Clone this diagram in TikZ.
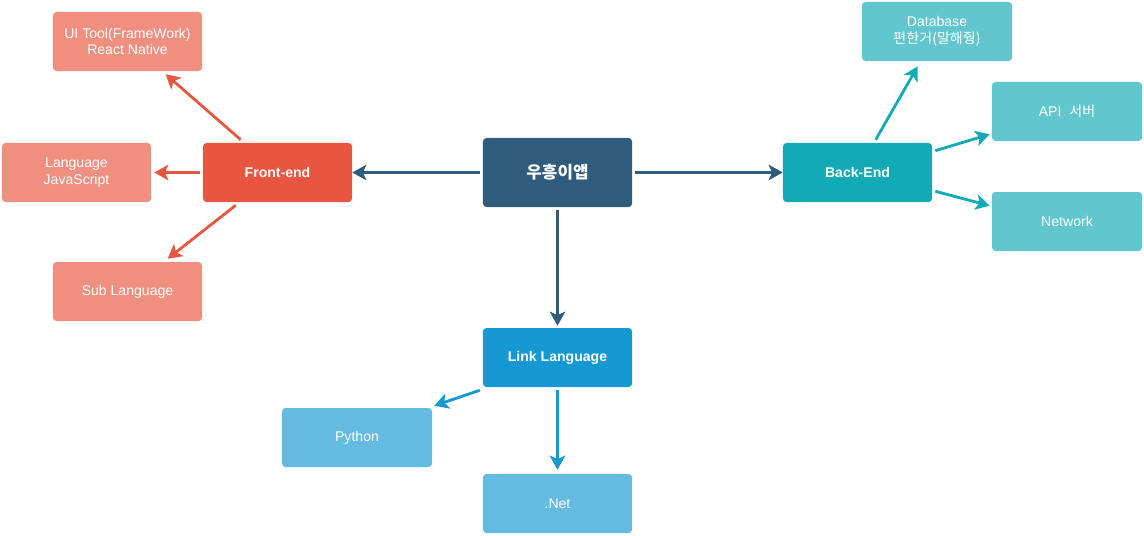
\documentclass[tikz,border=0pt]{standalone}
\usepackage{xcolor}
\usepackage{fontspec}
\setmainfont{Liberation Sans}
\newfontfamily\krfont{Noto Sans CJK KR}
\usepackage{tikz}
\usetikzlibrary{arrows.meta, calc}

\definecolor{appc}{HTML}{2F5B7C}
\definecolor{frontc}{HTML}{E85642}
\definecolor{frontl}{HTML}{F08F80}
\definecolor{backc}{HTML}{12AAB5}
\definecolor{backl}{HTML}{61C6CE}
\definecolor{linkc}{HTML}{1699D3}
\definecolor{linkl}{HTML}{64BBE2}

\begin{document}
\begin{tikzpicture}[
    x=0.025cm, y=-0.025cm,
    box/.style={rectangle, rounded corners=2.5pt, minimum width=3.725cm, minimum height=1.475cm, inner sep=0pt, text=white, align=center, font=\fontsize{10}{12}\selectfont},
    main/.style={box, font=\bfseries\fontsize{10}{12}\selectfont},
    arrow/.style={-{Stealth[length=10pt, width=11pt, inset=2.5pt]}, line width=2pt, draw=#1}
]
\useasboundingbox (0,0) rectangle (1144,535);
\node[main, fill=appc, minimum height=1.725cm, font=\krfont\bfseries\fontsize{12}{14}\selectfont] (app) at (557.5,172.5) {우흥이앱};
% front-end side
\node[main, fill=frontc] (fe)  at (277.5,172.5) {Front-end};
\node[box, fill=frontl]  (ui)  at (127.5,41.5)  {UI Tool(FrameWork)\\React Native};
\node[box, fill=frontl]  (js)  at (76.5,172.5)  {Language\\JavaScript};
\node[box, fill=frontl]  (sub) at (127.5,291.5) {Sub Language};
% back-end side
\node[main, fill=backc] (be)  at (857.5,172.5) {Back-End};
\node[box, fill=backl, minimum width=3.75cm] (db)  at (937,31.5)   {Database\\{\krfont 편한거(말해줭)}};
\node[box, fill=backl, minimum width=3.75cm] (api) at (1067,111.5) {API~~{\krfont 서버}};
\node[box, fill=backl, minimum width=3.75cm] (net) at (1067,221.5) {Network};
% link language
\node[main, fill=linkc] (link)   at (557.5,357.5) {Link Language};
\node[box, fill=linkl, minimum width=3.75cm] (py) at (357,437.5) {Python};
\node[box, fill=linkl]  (dotnet) at (557.5,503.5) {.Net};

\draw[arrow=appc] ($(app.west)+(-3,0)$) -- (fe.east);
\draw[arrow=appc] ($(app.east)+(3,0)$) -- (be.west);
\draw[arrow=appc] ($(app.south)+(0,3)$) -- ($(link.north)+(0,-2)$);

\draw[arrow=frontc] ($(fe.north west)+(38,-3)$) -- ($(ui.south west)+(113,3)$);
\draw[arrow=frontc] ($(fe.west)+(-3,0)$) -- ($(js.east)+(3,0)$);
\draw[arrow=frontc] ($(fe.south west)+(33,3)$) -- ($(sub.north west)+(115,-3)$);

\draw[arrow=backc] ($(be.north west)+(93,-3)$) -- ($(db.south west)+(56,5)$);
\draw[arrow=backc] ($(be.north east)+(3,8)$) -- ($(api.south west)+(-2,-7)$);
\draw[arrow=backc] ($(be.south east)+(3,-11)$) -- ($(net.north west)+(-2,14)$);

\draw[arrow=linkc] ($(link.south west)+(-3,3)$) -- ($(py.north east)+(2,-2)$);
\draw[arrow=linkc] ($(link.south)+(0,3)$) -- ($(dotnet.north)+(0,-4)$);
\end{tikzpicture}
\end{document}
